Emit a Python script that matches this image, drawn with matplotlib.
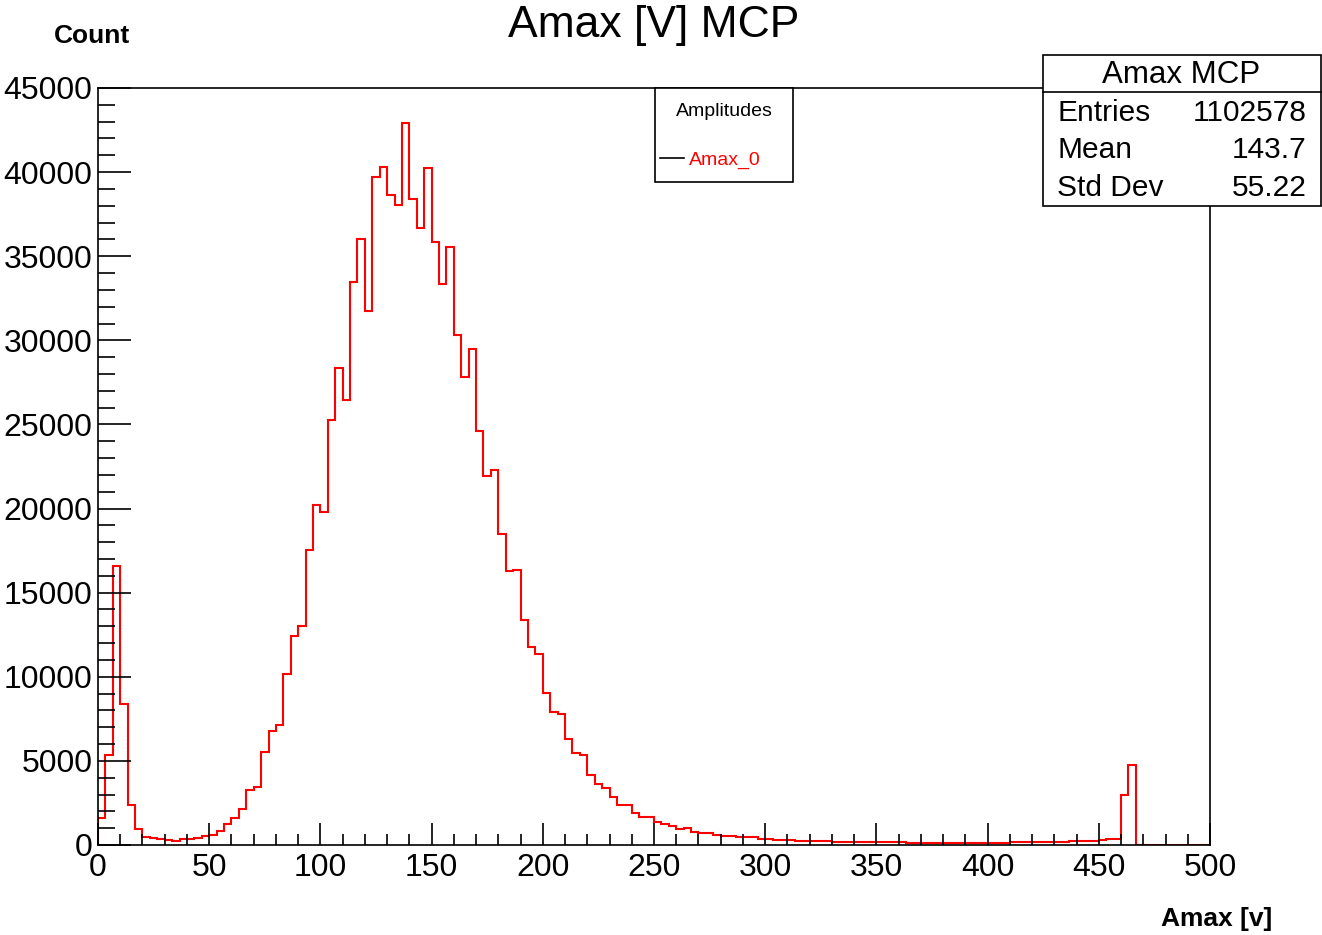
import numpy as np
import matplotlib.pyplot as plt
from matplotlib.ticker import MultipleLocator
from matplotlib.patches import Rectangle
from matplotlib.lines import Line2D

plt.rcParams['font.family'] = ['Liberation Sans', 'DejaVu Sans']

# histogram contents, 150 bins over 0..500
counts = [
    1600, 5350, 16600, 8400, 2370, 970, 500, 390, 350, 310,
    260, 330, 370, 410, 520, 620, 840, 1240, 1580, 2150,
    3240, 3420, 5500, 6750, 7150, 10150, 12400, 13000, 17550, 20200,
    19780, 25270, 28380, 26460, 33490, 36030, 31750, 39690, 40330, 38640,
    38050, 42900, 38400, 36700, 40250, 35850, 33370, 35550, 30320, 27820,
    29470, 24630, 21960, 22270, 18490, 16310, 16350, 13380, 11790, 11360,
    9060, 7890, 7790, 6300, 5450, 5370, 4140, 3610, 3410, 2835,
    2380, 2380, 1920, 1680, 1680, 1350, 1230, 1150, 930, 990,
    800, 690, 700, 590, 540, 560, 500, 460, 450, 380,
    330, 310, 300, 280, 260, 240, 240, 250, 220, 200,
    190, 180, 175, 170, 165, 160, 155, 150, 150, 145,
    140, 140, 135, 135, 130, 130, 130, 130, 130, 135,
    135, 140, 145, 150, 155, 160, 170, 180, 190, 200,
    205, 210, 220, 250, 260, 270, 340, 350, 3000, 4750,
    0, 0, 0, 0, 0, 0, 0, 0, 0, 0,
]
x_min, x_max = 0, 500
edges = np.linspace(x_min, x_max, len(counts) + 1)

stats_labels = ['Entries', 'Mean', 'Std Dev']
stats_values = ['1102578', '143.7', '55.22']

W, H = 1322, 935
fig = plt.figure(figsize=(W / 100, H / 100), dpi=100)
ax = fig.add_axes([98 / W, 1 - 845 / H, (1210 - 98) / W, (845 - 88) / H])

ax.stairs(counts, edges, color='red', lw=1.5, baseline=0)

ax.set_xlim(x_min, x_max)
ax.set_ylim(0, 45000)

ax.xaxis.set_major_locator(MultipleLocator(50))
ax.xaxis.set_minor_locator(MultipleLocator(10))
ax.yaxis.set_major_locator(MultipleLocator(5000))
ax.yaxis.set_minor_locator(MultipleLocator(1000))

ax.tick_params(axis='x', which='major', direction='in', length=16, width=1.2,
               labelsize=23, pad=6)
ax.tick_params(axis='x', which='minor', direction='in', length=8, width=1.2)
ax.tick_params(axis='y', which='major', direction='in', length=24, width=1.2,
               labelsize=23, pad=4)
ax.tick_params(axis='y', which='minor', direction='in', length=12, width=1.2)

for s in ax.spines.values():
    s.set_linewidth(1.2)

# title and axis titles
fig.text(654 / W, 1 - 26 / H, 'Amax [V] MCP', ha='center', va='center', fontsize=32)
fig.text(92 / W, 1 - 36 / H, 'Count', ha='center', va='center', fontsize=19,
         fontweight='bold')
fig.text(1272 / W, 1 - 919 / H, 'Amax [v]', ha='right', va='center', fontsize=19,
         fontweight='bold')

# legend box
fig.patches.append(Rectangle((655 / W, 1 - 182 / H), (793 - 655) / W, (182 - 88) / H,
                             transform=fig.transFigure, facecolor='white',
                             edgecolor='black', lw=1.2, zorder=5))
fig.text(724 / W, 1 - 111 / H, 'Amplitudes', ha='center', va='center', fontsize=14,
         zorder=6)
fig.lines.append(Line2D([660 / W, 684 / W], [1 - 158 / H, 1 - 158 / H],
                        transform=fig.transFigure, color='black', lw=1.2, zorder=6))
fig.text(689 / W, 1 - 160 / H, 'Amax_0', ha='left', va='center', fontsize=14,
         color='red', zorder=6)

# stats box
fig.patches.append(Rectangle((1043 / W, 1 - 206 / H), (1321 - 1043) / W, (206 - 55) / H,
                             transform=fig.transFigure, facecolor='white',
                             edgecolor='black', lw=1.2, zorder=5))
fig.lines.append(Line2D([1043 / W, 1321 / W], [1 - 92 / H, 1 - 92 / H],
                        transform=fig.transFigure, color='black', lw=1.2, zorder=6))
fig.text(1181 / W, 1 - 75 / H, 'Amax MCP', ha='center', va='center', fontsize=22.5,
         zorder=6)
for i, (lab, val) in enumerate(zip(stats_labels, stats_values)):
    yy = 1 - (113 + 37.5 * i) / H
    fig.text(1057 / W, yy, lab, ha='left', va='center', fontsize=21.5, zorder=6)
    fig.text(1307 / W, yy, val, ha='right', va='center', fontsize=21.5, zorder=6)

fig.savefig('out.png', dpi=100)
